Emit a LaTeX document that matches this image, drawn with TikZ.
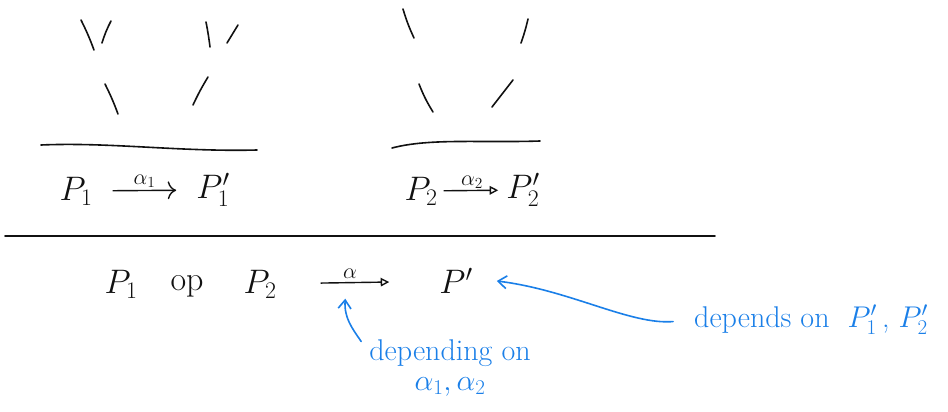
\documentclass[tikz,border=0pt]{standalone}
\usepackage{fix-cm}
\usepackage{xcolor}
\usepackage{tikz}
\usetikzlibrary{arrows.meta, positioning, calc}
\definecolor{inkblack}{HTML}{111111}
\definecolor{inkblue}{HTML}{1A7FE8}

\begin{document}
\begin{tikzpicture}[
  x=1pt, y=-1pt,
  lbl/.style={inner sep=2pt, text=inkblack, font=\fontsize{34}{38}\selectfont},
  small/.style={inner sep=1pt, text=inkblack, font=\fontsize{22}{24}\selectfont},
  note/.style={inner sep=1pt, text=inkblue, align=center, font=\fontsize{30}{32}\selectfont},
  stroke/.style={draw=inkblack, line width=1.6pt, line cap=round},
  rule/.style={draw=inkblack, line width=1.6pt, line cap=round},
  arr/.style={draw=inkblack, line width=1.4pt, -{To[length=3mm]}},
  tarr/.style={draw=inkblack, line width=1.4pt, -{Triangle[open, length=3mm, width=3mm]}},
  barr/.style={draw=inkblue, line width=1.6pt, line cap=round, -{Straight Barb[length=3mm, width=4.5mm]}}
]
\useasboundingbox (0,0) rectangle (948,412);

% left premise
\draw[stroke] (81,20) to[bend left=3] (94,50);
\draw[stroke] (111,21) to[bend right=5] (102,43);
\draw[stroke] (206,22) to[bend left=2] (210,47);
\draw[stroke] (238,25) -- (227,43);
\draw[stroke] (105,84) to[bend left=3] (118,114);
\draw[stroke] (208,77) to[bend right=3] (193,105);
\draw[rule] (41,145) .. controls (110,142) and (180,152) .. (257,150);
\node[lbl] (p1) at (76,191) {$P_1$};
\node[lbl] (p1p) at (213,190) {$P_1'$};
\draw[arr, shorten <=18pt, shorten >=18pt] (p1) -- node[small, above=1pt] {$\alpha_1$} (p1p);

% right premise
\draw[stroke] (403,9) to[bend right=4] (414,38);
\draw[stroke] (528,19) to[bend left=3] (521,43);
\draw[stroke] (419,84) to[bend right=5] (433,112);
\draw[stroke] (513,80) -- (492,107);
\draw[rule] (392,148) .. controls (430,138) and (480,143) .. (540,141);
\node[lbl] (p2) at (421,191) {$P_2$};
\node[lbl] (p2p) at (523,190) {$P_2'$};
\draw[tarr, shorten <=4pt, shorten >=6pt] (p2) -- node[small, above=0pt] {$\alpha_2$} (p2p);

% conclusion
\draw[rule] (5,236) -- (715,236);
\node[lbl] (q1) at (121,284) {$P_1$};
\node[lbl] (op) at (187,286) {op};
\node[lbl] (q2) at (260,284) {$P_2$};
\node[lbl] (pp) at (456,281) {$P'$};
\draw[tarr, shorten <=42pt, shorten >=48pt] (q2) -- node[small, above=2pt, xshift=-8pt] {$\alpha$} coordinate[pos=0.42] (mid) (pp);

% annotations
\node[note, anchor=west] (dep) at (693,320) {depends on\ \ $P_1'$\,,\ $P_2'$};
\node[note] (dep2) at (450,368) {depending on\\[-2pt]$\alpha_1,\alpha_2$};
\draw[barr, shorten <=20pt] (dep.west) .. controls (630,325) and (570,290) .. ([xshift=22pt]pp.east);
\draw[barr] ([xshift=-7pt, yshift=-3pt]dep2.north west) .. controls (352,328) and (344,318) .. ([yshift=-16pt]mid);
\end{tikzpicture}
\end{document}
